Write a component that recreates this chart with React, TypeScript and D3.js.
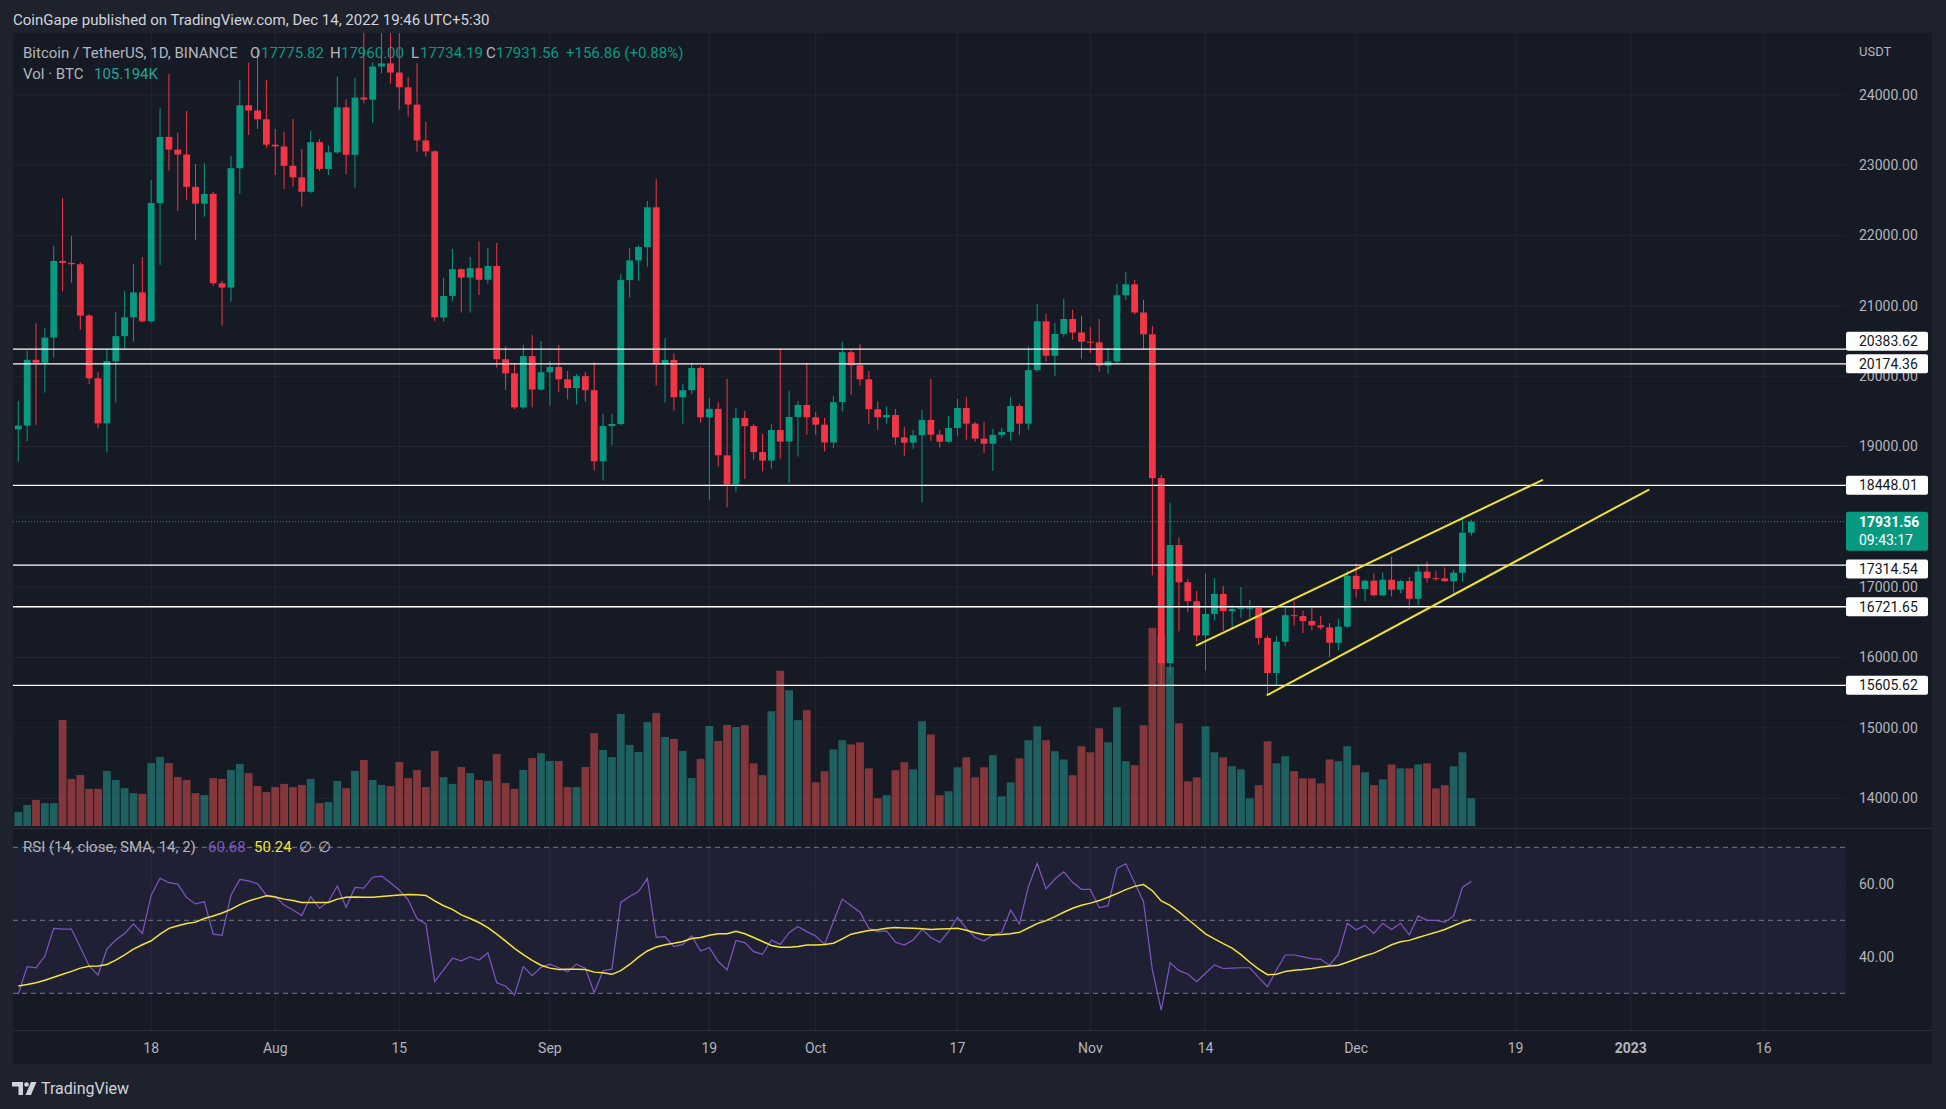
import React, { useEffect } from "react";
import * as d3 from "d3";

const START = Date.UTC(2022, 6, 3);
const DAY = 86400000;
const FONT = "Roboto, 'Noto Sans', 'DejaVu Sans', sans-serif";

const UP = "#089981";
const DOWN = "#f23645";
const UP_VOL = "rgba(38,166,154,0.5)";
const DOWN_VOL = "rgba(239,83,80,0.5)";
const BG = "#161a25";
const FRAME = "#1e222d";
const GRID = "#232632";
const TEXT = "#b2b5be";

// daily candles, Jul 3 2022 .. Dec 14 2022
const opens = [
  19243, 19297, 20232, 20191, 20548, 21637, 21610, 21590, 20861, 19970,
  19329, 20212, 20569, 20836, 21190, 20779, 22460, 23400, 23220, 23150,
  22690, 22452, 22590, 21320, 21259, 22955, 23850, 23775, 23650, 23290,
  23265, 22990, 22825, 22620, 23325, 22945, 23180, 23820, 23145, 23960,
  23930, 24400, 24445, 24315, 24105, 23860, 23350, 23195, 20835, 21140,
  21520, 21400, 21535, 21370, 21565, 20240, 20040, 19555, 20285, 19810,
  20055, 20130, 19955, 19830, 20000, 19800, 18790, 19290, 19320, 21365,
  21645, 21835, 22400, 20170, 20230, 19700, 19800, 20115, 19415, 19535,
  18875, 18460, 19405, 19290, 18920, 18800, 19235, 19070, 19420, 19590,
  19415, 19310, 19057, 19630, 20340, 20155, 19955, 19530, 19415, 19448,
  19130, 19055, 19160, 19378, 19168, 19068, 19262, 19548, 19325, 19112,
  19040, 19165, 19208, 19575, 19325, 20085, 20780, 20290, 20600, 20812,
  20620, 20490, 20480, 20150, 20210, 21150, 21305, 20905, 20595, 18550,
  15920, 17600, 17070, 16800, 16315, 16620, 16905, 16660, 16692, 16700,
  16705, 16280, 15781, 16225, 16603, 16590, 16520, 16458, 16428, 16210,
  16440, 17163, 16975, 17092, 16885, 17105, 16965, 17088, 16836, 17222,
  17128, 17125, 17085, 17206, 17775.82,
];
const highs = [
  19649, 20359, 20752, 20690, 21851, 22533, 21993, 21620, 20880, 20061,
  20373, 20908, 21212, 21595, 21694, 22788, 23806, 24294, 23461, 23768,
  23016, 23026, 22620, 21354, 23129, 24209, 24455, 24668, 24209, 23513,
  23475, 23655, 23229, 23489, 23371, 23281, 24256, 23939, 24237, 24918,
  24456, 24888, 25047, 25211, 24251, 24446, 23612, 23210, 21396, 21808,
  21530, 21694, 21912, 21822, 21893, 20421, 20184, 20444, 20587, 20501,
  20217, 20444, 20075, 20030, 20061, 20193, 19464, 19464, 21450, 21818,
  21860, 22490, 22802, 20539, 20326, 19891, 20184, 20140, 19687, 19630,
  19962, 19554, 19507, 19318, 19180, 19322, 20388, 19791, 19649, 20189,
  19493, 19408, 19720, 20487, 20374, 20459, 20075, 19640, 19568, 19535,
  19280, 19237, 19521, 19962, 19237, 19436, 19677, 19706, 19350, 19351,
  19251, 19265, 19706, 19607, 20416, 21027, 20885, 20757, 21098, 20942,
  20857, 20700, 20814, 20402, 21311, 21481, 21368, 21084, 20714, 18598,
  18195, 17708, 17120, 16950, 17192, 17130, 17021, 16751, 17002, 16822,
  16737, 16316, 16302, 16704, 16808, 16666, 16704, 16595, 16491, 16552,
  17235, 17334, 17106, 17192, 17210, 17438, 17106, 17144, 17310, 17367,
  17234, 17281, 17249, 18006, 17960.0,
];
const lows = [
  18787, 19071, 19308, 19767, 20264, 21202, 21330, 20658, 19886, 19261,
  18915, 19625, 20388, 20492, 20762, 20760, 21581, 22921, 22348, 22504,
  21936, 22267, 21282, 20719, 21060, 22589, 23428, 23513, 23248, 22859,
  22660, 22694, 22409, 22599, 22916, 22859, 23160, 22874, 22679, 23877,
  23603, 24303, 24157, 23788, 23688, 23190, 23120, 20786, 20776, 21070,
  20904, 20904, 21155, 21316, 20123, 19805, 19531, 19531, 19554, 19790,
  19583, 19772, 19668, 19597, 19639, 18659, 18517, 19014, 19300, 21117,
  21354, 21557, 19867, 19625, 19512, 19322, 19744, 19341, 18243, 18716,
  18134, 18361, 18541, 18811, 18645, 18683, 18825, 18479, 18858, 19166,
  19166, 18929, 18977, 19498, 19734, 19867, 19322, 19237, 19322, 19024,
  18868, 18967, 18205, 19081, 18986, 19050, 19152, 19095, 19067, 18910,
  18654, 19124, 19081, 19166, 19237, 20061, 20203, 20004, 20558, 20516,
  20246, 20331, 20061, 20033, 20190, 21084, 20880, 20388, 17168, 15591,
  15757, 16372, 16642, 16231, 15818, 16529, 16382, 16410, 16562, 16562,
  16183, 15473, 15615, 16159, 16458, 16349, 16387, 16396, 16008, 16103,
  16420, 16855, 16799, 16870, 16875, 16870, 16917, 16690, 16742, 17068,
  17092, 17078, 16879, 17078, 17734.19,
];
const closes = [
  19297, 20232, 20191, 20548, 21637, 21610, 21590, 20861, 19970, 19329,
  20212, 20569, 20836, 21190, 20779, 22460, 23400, 23220, 23150, 22690,
  22452, 22590, 21320, 21259, 22955, 23850, 23775, 23650, 23290, 23265,
  22990, 22825, 22620, 23325, 22945, 23180, 23820, 23145, 23960, 23930,
  24400, 24445, 24315, 24105, 23860, 23350, 23195, 20835, 21140, 21520,
  21400, 21535, 21370, 21565, 20240, 20040, 19555, 20285, 19810, 20055,
  20130, 19955, 19830, 20000, 19800, 18790, 19290, 19320, 21365, 21645,
  21835, 22400, 20170, 20230, 19700, 19800, 20115, 19415, 19535, 18875,
  18460, 19405, 19290, 18920, 18800, 19235, 19070, 19420, 19590, 19415,
  19310, 19057, 19630, 20340, 20155, 19955, 19530, 19415, 19448, 19130,
  19055, 19160, 19378, 19168, 19068, 19262, 19548, 19325, 19112, 19040,
  19165, 19208, 19575, 19325, 20085, 20780, 20290, 20600, 20812, 20620,
  20490, 20480, 20150, 20210, 21150, 21305, 20905, 20595, 18550, 15920,
  17600, 17070, 16800, 16315, 16620, 16905, 16660, 16692, 16708, 16708,
  16280, 15781, 16225, 16603, 16590, 16520, 16458, 16428, 16210, 16440,
  17163, 16975, 17092, 16885, 17105, 16965, 17088, 16836, 17222, 17128,
  17125, 17085, 17206, 17774.7, 17931.56,
];
// volume, thousands of BTC
const volumes = [
  53, 80, 99, 87, 87, 403, 179, 194, 141, 141,
  209, 175, 144, 125, 122, 239, 262, 239, 186, 175,
  125, 118, 182, 179, 213, 236, 201, 152, 129, 148,
  160, 148, 156, 179, 87, 91, 171, 144, 209, 251,
  175, 156, 152, 243, 182, 213, 148, 285, 186, 160,
  224, 201, 175, 171, 274, 163, 141, 213, 258, 277,
  247, 247, 148, 148, 224, 353, 289, 262, 426, 308,
  281, 395, 429, 338, 331, 285, 182, 255, 380, 323,
  384, 376, 383, 238, 193, 436, 590, 516, 402, 440,
  166, 208, 291, 326, 310, 318, 219, 105, 117, 212,
  242, 215, 398, 348, 117, 132, 223, 261, 185, 223,
  269, 113, 166, 257, 326, 379, 326, 284, 253, 193,
  303, 280, 371, 318, 451, 246, 231, 383, 753, 726,
  605, 390, 170, 185, 379, 280, 261, 227, 215, 105,
  155, 322, 238, 265, 208, 181, 181, 162, 253, 246,
  303, 231, 204, 155, 177, 234, 219, 219, 234, 238,
  143, 155, 227, 280, 105.194,
];
const rsi = [
  29.8, 37.3, 37.0, 40.2, 47.8, 47.6, 47.6, 42.6, 37.5, 35.0,
  42.1, 44.6, 46.4, 49.0, 46.4, 56.9, 61.5, 60.3, 59.9, 56.2,
  54.5, 55.1, 46.2, 45.9, 56.9, 61.2, 60.8, 60.0, 56.9, 56.5,
  54.2, 52.8, 51.3, 56.5, 53.3, 55.1, 59.4, 53.6, 59.0, 58.8,
  61.8, 62.1, 60.3, 58.3, 55.6, 50.5, 49.0, 33.2, 36.4, 39.6,
  38.9, 40.0, 39.1, 41.1, 32.9, 32.0, 29.5, 37.3, 34.8, 37.1,
  38.0, 37.0, 35.9, 38.0, 36.9, 30.2, 36.2, 36.6, 54.9, 56.5,
  57.9, 61.5, 45.3, 45.5, 42.8, 43.4, 45.8, 41.6, 42.5, 38.7,
  36.4, 44.5, 43.9, 41.4, 40.7, 44.6, 43.4, 46.6, 48.3, 46.9,
  45.7, 43.4, 49.6, 55.8, 54.0, 52.2, 47.8, 46.9, 47.1, 44.0,
  43.2, 44.6, 47.5, 45.3, 44.0, 46.9, 50.8, 47.8, 45.3, 44.3,
  46.0, 46.7, 52.8, 49.0, 59.2, 65.6, 58.6, 61.3, 63.3, 60.4,
  58.5, 58.5, 53.4, 54.0, 64.2, 65.5, 60.3, 55.1, 36.4, 25.4,
  38.4, 36.2, 35.3, 33.2, 35.5, 37.8, 36.8, 36.9, 37.0, 37.0,
  34.3, 31.8, 36.4, 40.5, 40.5, 40.0, 39.5, 39.3, 37.7, 40.7,
  49.2, 47.4, 48.6, 46.4, 49.2, 47.5, 49.2, 46.0, 51.2, 50.0,
  50.0, 49.5, 51.2, 59.0, 60.68,
];
const rsiSma = [
  32.0, 32.4, 32.9, 33.6, 34.4, 35.2, 36.0, 36.9, 37.4, 37.5,
  37.9, 39.1, 40.5, 42.1, 43.3, 44.4, 46.2, 47.8, 48.5, 49.1,
  49.5, 50.5, 51.2, 52.0, 53.0, 54.3, 55.3, 56.0, 56.7, 56.4,
  55.8, 55.4, 54.9, 54.9, 54.9, 54.9, 55.8, 56.3, 56.4, 56.3,
  56.3, 56.5, 56.7, 56.9, 57.1, 57.0, 56.8, 55.3, 54.0, 53.0,
  51.5, 50.5, 49.4, 48.0, 46.2, 44.3, 42.3, 40.6, 39.0, 37.7,
  36.9, 36.5, 36.6, 36.6, 36.5, 35.8, 35.6, 35.2, 36.2, 37.9,
  39.9, 41.6, 42.7, 43.3, 43.7, 44.2, 45.0, 45.3, 45.9, 46.3,
  46.3, 47.0, 46.3, 45.3, 44.2, 43.1, 42.6, 42.6, 42.8, 43.2,
  43.2, 43.4, 43.7, 44.9, 46.2, 46.7, 47.2, 47.4, 47.8, 48.0,
  47.9, 47.8, 47.7, 47.5, 47.6, 47.7, 47.8, 47.3, 46.6, 46.1,
  46.0, 46.1, 46.3, 46.7, 47.9, 49.1, 49.9, 51.0, 52.2, 53.3,
  54.1, 54.7, 55.4, 56.3, 57.3, 58.4, 59.3, 59.8, 58.1, 55.3,
  54.1, 52.3, 50.3, 48.3, 46.3, 44.9, 43.6, 42.4, 40.6, 38.5,
  36.6, 35.1, 35.2, 36.0, 36.3, 36.5, 36.8, 37.2, 37.5, 37.7,
  38.5, 39.4, 40.3, 41.0, 42.1, 43.3, 44.1, 44.5, 45.3, 46.0,
  46.7, 47.5, 48.5, 49.5, 50.24,
];

const levels = [20383.62, 20174.36, 18448.01, 17314.54, 16721.65, 15605.62];
const priceTicks = [14000, 15000, 16000, 17000, 18000, 19000, 20000, 21000, 22000, 23000, 24000];
const rsiTicks = [60, 40];
const rsiBands = [70, 50, 30];
const dateTicks: [string, string][] = [
  ["2022-07-18", "18"], ["2022-08-01", "Aug"], ["2022-08-15", "15"], ["2022-09-01", "Sep"],
  ["2022-09-19", "19"], ["2022-10-01", "Oct"], ["2022-10-17", "17"], ["2022-11-01", "Nov"],
  ["2022-11-14", "14"], ["2022-12-01", "Dec"], ["2022-12-19", "19"], ["2023-01-01", "2023"],
  ["2023-01-16", "16"],
];
// channel drawn on the chart: [date, price] -> [date, price]
const channel: [string, number, string, number][] = [
  ["2022-11-13", 16173, "2022-12-22", 18523],
  ["2022-11-21", 15469, "2023-01-03", 18385],
];

export default function App() {
  useEffect(() => {
    document.body.style.margin = "0";
  }, []);

  const L = 13, R = 1846, T = 33, PB = 828, RT = 829, RB = 1030;

  const x = d3
    .scaleUtc()
    .domain([new Date(START), new Date(START + 197 * DAY)])
    .range([18.3, 1763.7]);
  const y = d3.scaleLinear().domain([14000, 24000]).range([798.3, 94.7]);
  const yv = d3.scaleLinear().domain([0, 760]).range([826, 626]);
  const yr = d3.scaleLinear().domain([30, 70]).range([993.3, 847.3]);

  const dates = closes.map((_, i) => new Date(START + i * DAY));
  const fmt = d3.format(".2f");
  const n = closes.length;
  const last = n - 1;
  const chg = closes[last] - closes[last - 1];
  const pct = (chg / closes[last - 1]) * 100;

  const rsiLine = d3
    .line<number>()
    .x((_, i) => x(dates[i]))
    .y((d) => yr(d));

  const bodyW = 6.8;
  const volW = 7.8;

  const nudge: Record<string, number> = { "20383.62": -8, "17314.54": 4 };
  const lastY = y(closes[last]);

  return (
    <svg
      width={1946}
      height={1109}
      style={{ position: "fixed", left: 0, top: 0, display: "block" }}
      fontFamily={FONT}
    >
      <defs>
        <clipPath id="pp">
          <rect x={L} y={T} width={R - L} height={PB - T} />
        </clipPath>
        <clipPath id="rp">
          <rect x={L} y={RT} width={R - L} height={RB - RT} />
        </clipPath>
      </defs>

      <rect x={0} y={0} width={1946} height={1109} fill={FRAME} />
      <rect x={L} y={T} width={1932 - L} height={1064 - T} fill={BG} />

      <text x={13} y={25} fontSize={15} fill="#d1d4dc">
        CoinGape published on TradingView.com, Dec 14, 2022 19:46 UTC+5:30
      </text>

      {/* grid */}
      {dateTicks.map(([d]) => (
        <line key={d} x1={x(new Date(d))} x2={x(new Date(d))} y1={T} y2={RB} stroke={GRID} />
      ))}
      {priceTicks.map((p) => (
        <line key={p} x1={L} x2={R} y1={y(p)} y2={y(p)} stroke={GRID} />
      ))}

      {/* price pane */}
      <g clipPath="url(#pp)">
        {volumes.map((v, i) => (
          <rect
            key={i}
            x={x(dates[i]) - volW / 2}
            y={yv(v)}
            width={volW}
            height={yv(0) - yv(v)}
            fill={closes[i] >= opens[i] ? UP_VOL : DOWN_VOL}
          />
        ))}
        {closes.map((c, i) => {
          const o = opens[i];
          const col = c >= o ? UP : DOWN;
          const cx = x(dates[i]);
          const top = y(Math.max(o, c));
          const h = Math.max(1, y(Math.min(o, c)) - top);
          return (
            <g key={i}>
              <line x1={cx} x2={cx} y1={y(highs[i])} y2={y(lows[i])} stroke={col} strokeWidth={1} />
              <rect x={cx - bodyW / 2} y={top} width={bodyW} height={h} fill={col} />
            </g>
          );
        })}
        <line
          x1={L}
          x2={R}
          y1={lastY}
          y2={lastY}
          stroke={UP}
          strokeWidth={1}
          strokeDasharray="1 2"
        />
        {levels.map((lv) => (
          <line key={lv} x1={L} x2={R} y1={y(lv)} y2={y(lv)} stroke="#ffffff" strokeWidth={1.4} />
        ))}
        {channel.map(([d1, p1, d2, p2], k) => (
          <line
            key={k}
            x1={x(new Date(d1))}
            y1={y(p1)}
            x2={x(new Date(d2))}
            y2={y(p2)}
            stroke="#f2e230"
            strokeWidth={2}
            strokeLinecap="round"
          />
        ))}
      </g>

      <text x={23} y={58} fontSize={15} fill={TEXT}>
        <tspan>Bitcoin / TetherUS, 1D, BINANCE</tspan>
        <tspan x={250}>O</tspan>
        <tspan x={261} fill={UP}>{fmt(opens[last])}</tspan>
        <tspan x={330}>H</tspan>
        <tspan x={341} fill={UP}>{fmt(highs[last])}</tspan>
        <tspan x={411}>L</tspan>
        <tspan x={420} fill={UP}>{fmt(lows[last])}</tspan>
        <tspan x={486}>C</tspan>
        <tspan x={496} fill={UP}>{fmt(closes[last])}</tspan>
        <tspan x={566} fill={UP}>
          {`${chg >= 0 ? "+" : ""}${fmt(chg)} (${chg >= 0 ? "+" : ""}${fmt(pct)}%)`}
        </tspan>
      </text>
      <text x={23} y={79} fontSize={15} fill={TEXT}>
        <tspan>Vol · BTC</tspan>
        <tspan x={94} fill="#26a69a">{`${d3.format(".3f")(volumes[last])}K`}</tspan>
      </text>

      {/* pane separators */}
      <line x1={L} x2={1932} y1={PB + 0.5} y2={PB + 0.5} stroke="#2a2e39" />
      <line x1={L} x2={1932} y1={RB + 0.5} y2={RB + 0.5} stroke="#2a2e39" />

      {/* RSI pane */}
      <rect x={L} y={yr(70)} width={R - L} height={yr(30) - yr(70)} fill="rgba(126,87,194,0.1)" />
      {rsiTicks.map((r) => (
        <line key={r} x1={L} x2={R} y1={yr(r)} y2={yr(r)} stroke={GRID} />
      ))}
      {rsiBands.map((r) => (
        <line
          key={r}
          x1={L}
          x2={R}
          y1={yr(r)}
          y2={yr(r)}
          stroke="#787b86"
          strokeDasharray="5 4"
        />
      ))}
      <g clipPath="url(#rp)">
        <path d={rsiLine(rsi) || ""} fill="none" stroke="#7e57c2" strokeWidth={1.2} />
        <path d={rsiLine(rsiSma) || ""} fill="none" stroke="#f5e43a" strokeWidth={1.5} />
      </g>
      <text x={23} y={852} fontSize={15} fill={TEXT}>
        <tspan>RSI (14, close, SMA, 14, 2)</tspan>
        <tspan x={208} fill="#7e57c2">{fmt(rsi[last])}</tspan>
        <tspan x={254} fill="#f5e43a">{fmt(rsiSma[last])}</tspan>
        <tspan x={299}>∅</tspan>
        <tspan x={318}>∅</tspan>
      </text>

      {/* right axis */}
      <text x={1859} y={56} fontSize={13} fill={TEXT}>USDT</text>
      {priceTicks
        .filter((p) => Math.abs(y(p) - lastY) > 12)
        .map((p) => (
          <text key={p} x={1859} y={y(p)} dy="0.35em" fontSize={14} fill={TEXT}>
            {fmt(p)}
          </text>
        ))}
      {rsiTicks.map((r) => (
        <text key={r} x={1859} y={yr(r)} dy="0.35em" fontSize={14} fill={TEXT}>
          {fmt(r)}
        </text>
      ))}
      {levels.map((lv) => {
        const cy = y(lv) + (nudge[fmt(lv)] || 0);
        return (
          <g key={lv}>
            <rect x={1846} y={cy - 9.5} width={82} height={19} rx={2} fill="#ffffff" />
            <text x={1859} y={cy} dy="0.35em" fontSize={14} fill="#131722">
              {fmt(lv)}
            </text>
          </g>
        );
      })}
      <g>
        <rect x={1846} y={lastY - 10} width={82} height={39} rx={2} fill={UP} />
        <text x={1859} y={lastY} dy="0.35em" fontSize={14} fontWeight={700} fill="#ffffff">
          {fmt(closes[last])}
        </text>
        <text x={1859} y={lastY + 18} dy="0.35em" fontSize={14} fill="#ffffff">
          09:43:17
        </text>
      </g>

      {/* time axis */}
      {dateTicks.map(([d, lab]) => (
        <text
          key={d}
          x={x(new Date(d))}
          y={1048}
          dy="0.35em"
          textAnchor="middle"
          fontSize={14}
          fontWeight={lab === "2023" ? 700 : 400}
          fill={TEXT}
        >
          {lab}
        </text>
      ))}

      {/* footer logo */}
      <g fill="#d1d4dc">
        <path d="M12 1082 h11 v13 h-4.5 v-8.5 h-6.5 z" />
        <circle cx={26.5} cy={1084.5} r={2.3} />
        <path d="M31 1082 h5.5 l-5.5 13 h-5.5 z" />
        <text x={41} y={1094} fontSize={16} fill="#d1d4dc">TradingView</text>
      </g>
    </svg>
  );
}
